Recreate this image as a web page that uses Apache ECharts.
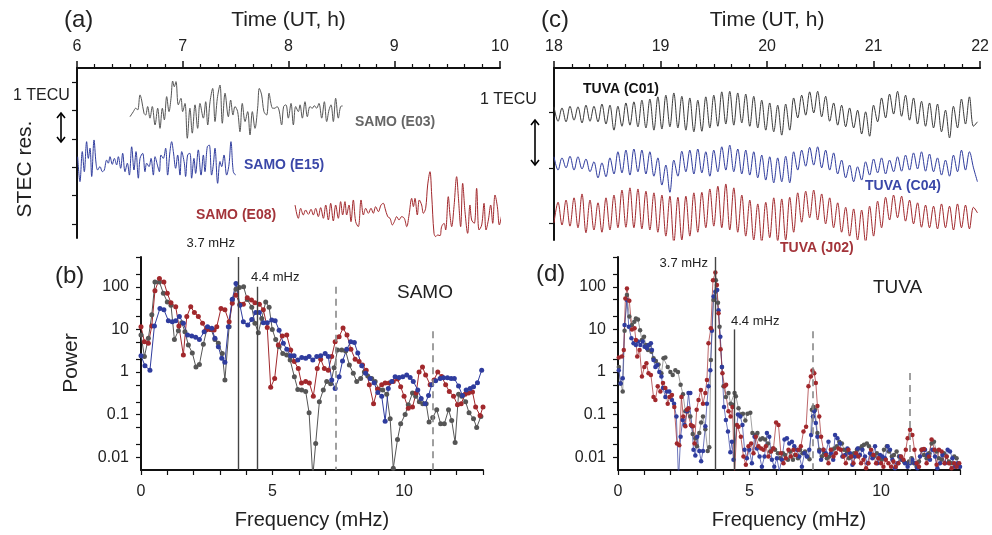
<!DOCTYPE html>
<html>
<head>
<meta charset="utf-8">
<title>SAMO / TUVA STEC</title>
<script src="https://cdn.jsdelivr.net/npm/echarts@6/dist/echarts.min.js"></script>
<style>
  html, body { margin: 0; padding: 0; background: #fff; }
  #chart { width: 992px; height: 535px; }
</style>
</head>
<body>
<div id="chart"></div>
<script>
// ---- STEC residuals, panel (a): [UT hour, offset TECU] ----
const samoE03 = [[6.501,3.78],[6.533,3.96],[6.555,4.08],[6.574,4.02],[6.596,4.55],[6.611,4.37],[6.634,3.9],[6.649,3.84],[6.668,4.14],[6.69,3.73],[6.712,4.14],[6.738,3.49],[6.763,4.08],[6.785,3.37],[6.807,4.08],[6.826,3.67],[6.848,4.49],[6.87,3.96],[6.889,4.43],[6.905,5.04],[6.92,4.84],[6.936,5.02],[6.958,4.2],[6.983,4.43],[6.999,3.96],[7.021,4.25],[7.043,3.02],[7.068,4.08],[7.09,3.2],[7.116,4.2],[7.141,3.37],[7.163,4.25],[7.195,3.73],[7.217,4.31],[7.236,3.49],[7.258,4.31],[7.283,4.78],[7.305,3.61],[7.327,4.43],[7.352,4.9],[7.374,3.55],[7.4,4.61],[7.431,3.78],[7.453,4.37],[7.475,3.84],[7.494,4.14],[7.519,3.96],[7.541,3.25],[7.563,4.25],[7.589,3.61],[7.614,3.96],[7.636,3.14],[7.658,3.96],[7.683,3.37],[7.708,4.08],[7.724,4.78],[7.746,4.55],[7.768,3.96],[7.793,3.84],[7.816,4.61],[7.834,4.25],[7.85,4.08],[7.872,4.08],[7.891,4.14],[7.91,4.02],[7.935,3.49],[7.954,4.14],[7.976,4.2],[7.998,3.73],[8.024,4.25],[8.046,3.49],[8.068,4.14],[8.093,3.96],[8.109,4.2],[8.131,3.73],[8.156,4.31],[8.178,3.78],[8.203,4.14],[8.225,4.08],[8.244,4.17],[8.266,4.08],[8.288,4.25],[8.314,3.73],[8.339,4.31],[8.361,3.61],[8.383,4.02],[8.402,4.2],[8.424,3.61],[8.446,4.43],[8.471,3.73],[8.493,4.14],[8.512,4.16]];
const samoE15 = [[6.006,2.37],[6.028,1.49],[6.05,2.55],[6.069,1.84],[6.091,2.9],[6.107,2.31],[6.123,2.67],[6.139,1.67],[6.161,2.96],[6.18,2.14],[6.195,1.9],[6.217,2.02],[6.24,1.84],[6.258,1.9],[6.28,2.25],[6.296,2.14],[6.312,2.37],[6.334,2.1],[6.353,2.31],[6.375,2.08],[6.391,2.37],[6.413,1.96],[6.432,2.49],[6.454,1.84],[6.476,2.14],[6.495,1.72],[6.517,2.72],[6.539,1.9],[6.558,2.55],[6.58,1.61],[6.596,2.31],[6.621,2.49],[6.643,1.84],[6.659,2.14],[6.681,2.02],[6.7,2.31],[6.722,1.72],[6.738,2.37],[6.76,2.08],[6.779,1.84],[6.794,2.43],[6.816,2.31],[6.838,2.67],[6.857,1.72],[6.879,2.55],[6.895,2.9],[6.911,2.55],[6.933,1.96],[6.952,2.43],[6.974,1.72],[6.99,2.55],[7.015,2.14],[7.027,1.67],[7.046,2.43],[7.068,2.49],[7.084,1.61],[7.106,2.31],[7.122,1.78],[7.147,2.61],[7.173,1.72],[7.195,2.43],[7.21,1.84],[7.232,2.72],[7.251,2.78],[7.273,1.72],[7.289,2.08],[7.305,2.67],[7.33,1.43],[7.352,2.2],[7.368,2.02],[7.39,2.43],[7.415,1.72],[7.437,2.08],[7.456,2.9],[7.478,1.84],[7.5,1.72]];
const samoE08 = [[8.062,0.665],[8.093,0.195],[8.115,0.548],[8.14,0.312],[8.162,0.489],[8.188,0.336],[8.213,0.512],[8.235,0.312],[8.257,0.548],[8.282,0.254],[8.304,0.571],[8.33,0.195],[8.352,0.665],[8.377,0.136],[8.399,0.724],[8.424,0.1],[8.446,0.665],[8.471,0.195],[8.493,0.783],[8.512,0.312],[8.534,0.783],[8.55,0.312],[8.572,0.665],[8.591,0.077],[8.613,0.842],[8.635,0.077],[8.66,-0.1],[8.686,0.842],[8.708,0.312],[8.73,0.548],[8.755,0.371],[8.78,0.548],[8.802,0.371],[8.824,0.606],[8.85,0.43],[8.875,0.665],[8.897,0.724],[8.913,0.548],[8.938,0.254],[8.96,0.195],[8.982,-0.04],[9.001,0.077],[9.023,0.254],[9.045,0.136],[9.07,0.254],[9.095,0.195],[9.118,-0.1],[9.14,0.312],[9.165,0.9],[9.181,0.606],[9.196,0.9],[9.218,0.312],[9.237,0.842],[9.259,0.665],[9.275,0.371],[9.297,0.548],[9.316,1.37],[9.338,1.84],[9.354,1.02],[9.376,-0.335],[9.392,-0.45],[9.411,-0.393],[9.433,-0.417],[9.448,-0.1],[9.471,0.018],[9.486,-0.217],[9.511,0.959],[9.527,0.312],[9.543,-0.1],[9.565,0.606],[9.59,1.665],[9.606,0.959],[9.628,-0.1],[9.647,1.43],[9.669,0.43],[9.694,-0.335],[9.716,0.665],[9.732,0.136],[9.757,0.018],[9.779,1.254],[9.802,-0.217],[9.827,-0.04],[9.849,0.724],[9.868,-0.217],[9.89,0.136],[9.912,0.665],[9.931,0.018],[9.953,1.018],[9.975,0.606],[9.994,-0.04],[10.016,0.312]];

// ---- STEC residuals, panel (c): common epochs (UT hour) + offset TECU ----
const tuvaTime = [18.000,18.038,18.075,18.113,18.150,18.188,18.225,18.263,18.300,18.338,
  18.375,18.413,18.450,18.488,18.525,18.563,18.600,18.638,18.675,18.713,
  18.750,18.788,18.825,18.863,18.900,18.938,18.975,19.013,19.050,19.088,
  19.125,19.163,19.200,19.238,19.275,19.313,19.350,19.388,19.425,19.463,
  19.500,19.538,19.575,19.613,19.650,19.688,19.725,19.763,19.800,19.838,
  19.875,19.913,19.950,19.988,20.025,20.063,20.100,20.138,20.175,20.213,
  20.250,20.288,20.325,20.363,20.400,20.438,20.475,20.513,20.550,20.588,
  20.625,20.663,20.700,20.738,20.775,20.813,20.850,20.888,20.925,20.963,
  21.000,21.038,21.075,21.113,21.150,21.188,21.225,21.263,21.300,21.338,
  21.375,21.413,21.450,21.488,21.525,21.563,21.600,21.638,21.675,21.713,
  21.750,21.788,21.825,21.863,21.900,21.938,21.975];
const tuvaC01 = [2.40,2.14,2.38,2.13,2.41,2.16,2.40,2.11,2.43,2.14,
  2.41,2.13,2.45,2.09,2.43,1.98,2.41,2.05,2.47,2.07,
  2.49,2.04,2.52,2.02,2.54,1.98,2.58,2.00,2.61,2.04,
  2.65,2.02,2.59,1.98,2.56,1.95,2.52,1.96,2.58,2.02,
  2.61,2.05,2.67,2.09,2.68,2.07,2.65,2.11,2.63,2.05,
  2.59,2.02,2.52,1.98,2.47,1.95,2.43,1.89,2.45,1.98,
  2.56,2.20,2.61,2.25,2.67,2.29,2.68,2.22,2.59,2.14,
  2.47,2.07,2.43,2.04,2.38,2.02,2.34,1.91,2.31,1.87,
  2.43,2.13,2.56,2.20,2.63,2.27,2.68,2.23,2.61,2.16,
  2.56,2.09,2.50,2.05,2.47,2.02,2.45,1.95,2.34,1.84,
  2.41,2.02,2.54,2.09,2.58,2.05,2.13];
const tuvaC04 = [1.50,1.26,1.48,1.30,1.51,1.26,1.50,1.28,1.46,1.23,
  1.41,1.12,1.39,1.14,1.48,1.19,1.59,1.21,1.62,1.17,
  1.64,1.23,1.62,1.19,1.59,1.15,1.48,0.99,1.35,0.86,
  1.44,1.15,1.60,1.23,1.62,1.19,1.64,1.21,1.59,1.15,
  1.62,1.23,1.68,1.26,1.71,1.23,1.64,1.19,1.62,1.17,
  1.59,1.12,1.53,1.08,1.50,1.03,1.48,1.05,1.51,1.03,
  1.59,1.26,1.62,1.33,1.67,1.35,1.68,1.30,1.62,1.26,
  1.57,1.19,1.44,1.12,1.35,1.05,1.32,1.08,1.41,1.17,
  1.46,1.21,1.48,1.19,1.44,1.23,1.50,1.24,1.53,1.26,
  1.57,1.28,1.59,1.24,1.55,1.23,1.48,1.17,1.44,1.15,
  1.53,1.23,1.62,1.26,1.59,1.30,1.05];
const tuvaJ02 = [0.31,0.68,0.27,0.72,0.25,0.76,0.22,0.83,0.13,0.72,
  0.18,0.67,0.14,0.76,0.18,0.81,0.22,0.90,0.23,0.94,
  0.22,0.92,0.20,0.88,0.18,0.85,0.14,0.81,0.07,0.79,
  -0.05,0.77,0.00,0.79,0.07,0.85,0.14,0.86,0.22,0.92,
  0.25,0.97,0.22,1.01,0.18,0.94,0.14,0.81,0.07,0.72,
  0.00,0.65,-0.04,0.68,0.04,0.76,-0.02,0.74,0.00,0.77,
  0.14,0.85,0.32,0.88,0.40,0.90,0.36,0.83,0.29,0.76,
  0.22,0.67,0.14,0.59,0.07,0.56,0.00,0.54,-0.04,0.61,
  0.07,0.70,0.22,0.77,0.36,0.81,0.40,0.79,0.34,0.72,
  0.29,0.67,0.23,0.63,0.22,0.61,0.20,0.65,0.22,0.61,
  0.18,0.65,0.22,0.63,0.20,0.59,0.49];

// ---- power spectra, panel (b): [frequency mHz, power] ----
const specE03 = [[0,7.4],[0.13,2.3],[0.28,6.2],[0.41,22],[0.53,130],[0.7,130],[0.85,70],[1.0,44],[1.14,37],[1.27,5.8],[1.42,9.3],[1.55,14.3],[1.67,8.8],[1.8,4.3],[1.95,2.8],[2.09,1.3],[2.22,1.5],[2.37,4.5],[2.52,11],[2.66,10],[2.81,5.8],[2.94,4.7],[3.09,2.7],[3.19,0.65],[3.35,11.5],[3.47,49],[3.61,87],[3.74,96],[3.9,100],[4.04,50],[4.21,33],[4.33,14],[4.46,8.3],[4.59,18],[4.74,44],[4.87,33],[4.99,10],[5.12,5.8],[5.25,3.9],[5.39,2.7],[5.54,2.5],[5.67,1.9],[5.83,0.77],[5.96,0.39],[6.11,0.38],[6.26,0.35],[6.39,0.11],[6.53,0.0035],[6.64,0.021],[6.78,0.2],[6.93,0.38],[7.06,0.6],[7.21,0.53],[7.34,1.26],[7.47,3.3],[7.63,3.3],[7.78,3.1],[7.92,1.45],[8.07,0.93],[8.2,0.6],[8.35,0.7],[8.49,1.0],[8.62,0.8],[8.77,0.7],[8.9,0.6],[9.05,0.39],[9.19,0.38],[9.34,0.3],[9.47,0.08],[9.59,0.0055],[9.75,0.026],[9.87,0.061],[10.04,0.1],[10.16,0.17],[10.32,0.32],[10.44,0.27],[10.58,0.2],[10.71,0.18],[10.84,0.18],[10.95,0.067],[11.09,0.085],[11.24,0.13],[11.39,0.061],[11.53,0.061],[11.69,0.13],[11.81,0.073],[11.94,0.022],[12.07,0.3],[12.19,0.27],[12.34,0.2],[12.47,0.11],[12.64,0.08],[12.76,0.05],[12.92,0.09]];
const specE15 = [[0,2.4],[0.15,1.4],[0.34,1.1],[0.51,12],[0.72,31],[0.87,29],[1.04,16],[1.19,15],[1.32,16],[1.46,20],[1.61,14],[1.77,7.4],[1.93,7],[2.08,6.5],[2.22,5.8],[2.4,8.8],[2.53,11.6],[2.69,10.6],[2.81,6.2],[2.94,3.9],[3.07,2.1],[3.19,1.7],[3.32,11.6],[3.47,51],[3.61,120],[3.76,37],[3.89,15],[4.06,12.6],[4.21,17],[4.36,25],[4.5,25],[4.65,14.3],[4.8,14.3],[4.97,16.5],[5.1,16],[5.25,9.6],[5.41,4.7],[5.54,3.4],[5.69,2.4],[5.82,2.4],[5.96,1.9],[6.11,2.2],[6.26,2.1],[6.39,2.3],[6.53,1.9],[6.68,2.3],[6.83,2.4],[7.0,2.7],[7.12,2.3],[7.25,0.65],[7.38,0.41],[7.53,0.77],[7.66,1.8],[7.82,3.4],[7.97,5.1],[8.11,4.9],[8.24,2.8],[8.39,1.4],[8.54,0.93],[8.71,0.7],[8.86,0.56],[9.0,0.33],[9.15,0.27],[9.28,0.07],[9.4,0.41],[9.53,0.6],[9.66,0.77],[9.81,0.74],[9.95,0.77],[10.1,0.85],[10.23,0.74],[10.35,0.6],[10.52,0.38],[10.65,0.24],[10.8,0.18],[10.93,0.28],[11.05,0.5],[11.2,0.62],[11.37,0.7],[11.5,0.73],[11.65,0.73],[11.79,0.7],[11.91,0.7],[12.07,0.47],[12.22,0.28],[12.36,0.38],[12.51,0.41],[12.64,0.45],[12.79,0.56],[12.95,1.1]];
const specE08 = [[0,11.6],[0.13,5.1],[0.28,4.7],[0.41,12],[0.53,81],[0.7,156],[0.87,130],[1.0,70],[1.14,42],[1.32,34],[1.44,12],[1.61,2.5],[1.74,20],[1.89,34],[2.03,25],[2.18,20],[2.34,14],[2.47,9.7],[2.62,10],[2.78,9.7],[2.88,11.6],[3.04,31],[3.19,29],[3.35,15],[3.47,41],[3.61,64],[3.76,39],[3.89,39],[4.04,55],[4.2,49],[4.33,42],[4.5,39],[4.65,29],[4.8,11],[4.93,0.44],[5.08,0.7],[5.22,4.3],[5.37,7],[5.54,7.4],[5.69,3.3],[5.83,1.75],[5.98,1.2],[6.1,0.55],[6.26,0.6],[6.4,0.55],[6.55,0.27],[6.7,1.2],[6.83,2.0],[6.97,1.2],[7.12,1.1],[7.25,2.3],[7.38,5.1],[7.53,6.7],[7.68,10.7],[7.83,7.4],[7.98,3.4],[8.14,2.0],[8.29,1.75],[8.42,1.45],[8.56,1.1],[8.68,0.5],[8.84,0.18],[8.99,0.4],[9.15,0.5],[9.28,0.55],[9.43,0.55],[9.59,0.6],[9.75,0.68],[9.87,0.45],[10.0,0.27],[10.16,0.14],[10.32,0.15],[10.46,0.32],[10.57,1.0],[10.7,1.3],[10.82,0.85],[10.99,0.5],[11.14,0.65],[11.28,1.0],[11.43,0.78],[11.58,0.5],[11.72,0.35],[11.88,0.27],[12.03,0.17],[12.17,0.18],[12.32,0.3],[12.45,0.32],[12.6,0.34],[12.72,0.15],[12.89,0.095],[13.0,0.15]];

// ---- power spectra, panel (d) ----
const specC01 = [[0.03,1.3],[0.1,0.54],[0.18,0.35],[0.25,9.3],[0.34,64],[0.43,20],[0.53,12.6],[0.62,15],[0.68,18],[0.76,17],[0.84,9.6],[0.91,5.6],[0.99,6.7],[1.06,4.3],[1.14,3.3],[1.19,4.3],[1.27,3.0],[1.35,2.1],[1.44,1.8],[1.54,1.5],[1.65,0.93],[1.73,2.1],[1.8,2.2],[1.89,1.3],[1.99,1.0],[2.08,0.85],[2.18,1.1],[2.28,1.0],[2.38,0.5],[2.47,0.3],[2.56,0.12],[2.65,0.12],[2.75,0.09],[2.84,0.035],[2.94,0.028],[3.0,0.018],[3.09,0.037],[3.16,0.065],[3.23,0.09],[3.32,0.045],[3.41,0.014],[3.47,0.017],[3.53,1.9],[3.63,49],[3.72,143],[3.8,42],[3.86,11.5],[3.95,1.3],[4.01,0.46],[4.1,0.26],[4.2,0.32],[4.28,0.18],[4.35,0.17],[4.43,0.32],[4.48,0.27],[4.58,0.14],[4.67,0.1],[4.75,0.105],[4.84,0.073],[4.92,0.105],[5.03,0.11],[5.11,0.037],[5.22,0.033],[5.3,0.037],[5.41,0.026],[5.49,0.028],[5.59,0.026],[5.7,0.021],[5.78,0.0135],[5.89,0.016],[5.97,0.015],[6.08,0.0124],[6.16,0.0095],[6.27,0.0124],[6.35,0.0113],[6.46,0.0087],[6.54,0.0135],[6.65,0.0087],[6.73,0.0113],[6.84,0.0095],[6.92,0.015],[7.01,0.0124],[7.11,0.0135],[7.2,0.0104],[7.28,0.009],[7.37,0.13],[7.43,0.15],[7.49,0.13],[7.58,0.037],[7.65,0.015],[7.75,0.0104],[7.84,0.0124],[7.94,0.0095],[8.03,0.0104],[8.13,0.015],[8.22,0.016],[8.32,0.018],[8.41,0.023],[8.51,0.021],[8.59,0.015],[8.7,0.0135],[8.78,0.0095],[8.89,0.0104],[8.97,0.0124],[9.08,0.015],[9.16,0.016],[9.27,0.018],[9.35,0.0195],[9.46,0.021],[9.54,0.018],[9.65,0.0113],[9.73,0.0104],[9.84,0.0124],[9.92,0.0095],[10.03,0.0087],[10.11,0.015],[10.22,0.018],[10.3,0.0135],[10.41,0.0104],[10.49,0.0113],[10.59,0.0135],[10.68,0.0104],[10.78,0.0087],[10.87,0.0079],[10.97,0.0072],[11.06,0.0079],[11.16,0.0095],[11.25,0.0072],[11.35,0.006],[11.44,0.0079],[11.54,0.015],[11.63,0.0113],[11.73,0.0095],[11.82,0.0124],[11.92,0.021],[12.01,0.023],[12.11,0.0135],[12.2,0.0095],[12.3,0.0087],[12.39,0.0124],[12.49,0.0104],[12.58,0.0079],[12.68,0.0072],[12.78,0.0104],[12.87,0.0095],[12.97,0.006]];
const specC04 = [[0.03,1.1],[0.1,0.54],[0.18,0.71],[0.25,12.6],[0.34,49],[0.41,11.5],[0.51,6.2],[0.59,4.7],[0.68,4.3],[0.76,5.2],[0.85,4.3],[0.94,5.2],[1.01,3.9],[1.1,3.6],[1.16,4.3],[1.25,4.7],[1.29,3.3],[1.35,1.9],[1.42,1.3],[1.49,1.45],[1.57,1.0],[1.65,0.78],[1.71,0.42],[1.8,0.26],[1.86,0.35],[1.95,0.35],[2.05,0.22],[2.13,0.18],[2.22,0.09],[2.3,0.003],[2.38,0.03],[2.46,0.075],[2.53,0.057],[2.62,0.12],[2.68,0.32],[2.75,0.32],[2.81,0.053],[2.87,0.015],[2.94,0.011],[3.01,0.03],[3.09,0.014],[3.16,0.008],[3.23,0.014],[3.32,0.053],[3.38,0.18],[3.44,0.46],[3.51,1.1],[3.57,9.3],[3.63,59],[3.7,76],[3.77,84],[3.82,28],[3.89,6.7],[3.95,1.3],[4.03,0.15],[4.1,0.075],[4.18,0.04],[4.27,0.013],[4.33,0.023],[4.39,0.0087],[4.56,0.1],[4.65,0.09],[4.73,0.057],[4.81,0.015],[4.9,0.0095],[4.99,0.015],[5.09,0.0072],[5.19,0.03],[5.28,0.016],[5.38,0.0104],[5.47,0.006],[5.57,0.0104],[5.66,0.037],[5.75,0.03],[5.85,0.0087],[5.94,0.006],[6.04,0.0095],[6.13,0.0048],[6.23,0.0087],[6.33,0.026],[6.42,0.028],[6.51,0.021],[6.61,0.023],[6.7,0.018],[6.8,0.015],[6.89,0.0104],[6.99,0.006],[7.09,0.0124],[7.18,0.0104],[7.27,0.015],[7.34,0.033],[7.41,0.09],[7.46,0.12],[7.52,0.063],[7.58,0.03],[7.65,0.0135],[7.72,0.0087],[7.81,0.015],[7.9,0.0124],[8.0,0.023],[8.09,0.0124],[8.18,0.0087],[8.25,0.033],[8.34,0.028],[8.44,0.021],[8.53,0.0104],[8.63,0.0113],[8.72,0.016],[8.82,0.0124],[8.91,0.0066],[9.01,0.0104],[9.11,0.016],[9.2,0.0113],[9.29,0.015],[9.39,0.0104],[9.48,0.0072],[9.58,0.0124],[9.67,0.0095],[9.77,0.018],[9.86,0.0072],[9.96,0.0113],[10.05,0.0104],[10.15,0.0095],[10.25,0.018],[10.34,0.015],[10.43,0.0087],[10.53,0.0055],[10.62,0.0072],[10.72,0.0104],[10.81,0.0087],[10.91,0.0072],[11.01,0.006],[11.1,0.0072],[11.19,0.0087],[11.29,0.0072],[11.38,0.0055],[11.48,0.0104],[11.57,0.015],[11.67,0.015],[11.76,0.0113],[11.86,0.0087],[11.95,0.015],[12.05,0.0104],[12.14,0.0055],[12.24,0.0072],[12.33,0.0113],[12.43,0.0072],[12.53,0.015],[12.62,0.0135],[12.71,0.0095],[12.81,0.006],[12.91,0.0072],[13.0,0.006]];
const specJ02 = [[0.03,2.2],[0.15,2.3],[0.22,3.3],[0.28,53],[0.34,91],[0.43,47],[0.53,10],[0.63,10.6],[0.68,5.6],[0.73,2.3],[0.82,3.3],[0.91,0.78],[1.0,1.3],[1.08,1.6],[1.16,0.93],[1.25,0.85],[1.35,0.26],[1.42,0.22],[1.51,0.46],[1.61,0.35],[1.71,0.55],[1.8,0.42],[1.89,0.18],[1.96,0.26],[2.05,0.29],[2.14,0.15],[2.24,0.021],[2.33,0.019],[2.41,0.26],[2.48,0.09],[2.56,0.053],[2.62,0.13],[2.68,0.14],[2.77,0.057],[2.85,0.053],[2.91,0.021],[2.99,0.13],[3.06,0.22],[3.15,0.38],[3.23,0.18],[3.32,0.32],[3.38,0.65],[3.44,4.7],[3.53,10.6],[3.61,143],[3.7,216],[3.76,110],[3.82,24],[3.9,3.4],[3.97,0.93],[4.05,0.46],[4.11,0.5],[4.2,0.12],[4.28,0.09],[4.35,0.15],[4.43,0.004],[4.52,0.057],[4.58,0.052],[4.67,0.03],[4.77,0.0104],[4.86,0.0066],[4.96,0.018],[5.06,0.021],[5.15,0.0124],[5.24,0.03],[5.34,0.018],[5.44,0.016],[5.53,0.015],[5.62,0.018],[5.72,0.0104],[5.82,0.0135],[5.91,0.016],[6.01,0.065],[6.1,0.057],[6.19,0.0124],[6.29,0.0072],[6.38,0.0095],[6.48,0.015],[6.57,0.0104],[6.67,0.015],[6.76,0.0113],[6.86,0.015],[6.95,0.018],[7.05,0.04],[7.15,0.052],[7.24,0.46],[7.33,0.78],[7.39,1.08],[7.46,0.93],[7.52,0.55],[7.58,0.16],[7.65,0.09],[7.72,0.03],[7.81,0.015],[7.9,0.0113],[8.0,0.0072],[8.09,0.015],[8.19,0.0104],[8.28,0.0124],[8.38,0.016],[8.47,0.015],[8.57,0.0104],[8.66,0.0072],[8.76,0.015],[8.86,0.0104],[8.95,0.0072],[9.05,0.0124],[9.14,0.0104],[9.24,0.0072],[9.33,0.0087],[9.43,0.0055],[9.52,0.0072],[9.62,0.015],[9.71,0.0113],[9.81,0.0072],[9.9,0.0095],[10.0,0.0072],[10.09,0.006],[10.18,0.0087],[10.28,0.0072],[10.38,0.006],[10.47,0.0079],[10.56,0.006],[10.66,0.0072],[10.76,0.0104],[10.85,0.0087],[10.94,0.015],[11.01,0.028],[11.1,0.044],[11.19,0.033],[11.27,0.015],[11.35,0.0072],[11.44,0.006],[11.54,0.015],[11.63,0.0155],[11.73,0.0072],[11.82,0.0104],[11.92,0.026],[12.03,0.015],[12.11,0.0066],[12.2,0.015],[12.3,0.0135],[12.41,0.0072],[12.49,0.0104],[12.58,0.0072],[12.68,0.0055],[12.78,0.0072],[12.87,0.006],[12.97,0.0072]];

// reference frequencies (mHz): 3.7 / 4.4 and harmonics of 3.7
const markFreq = [3.7, 4.4];
const harmFreq = [7.4, 11.1];
const powerTicks = [0.01, 0.1, 1, 10, 100];
const powerMinor = [0.01, 0.02, 0.05, 0.1, 0.2, 0.5, 1, 2, 5, 10, 20, 50, 100, 200, 500];

const FONT = 'Liberation Sans, Arial, Helvetica, sans-serif';
const GRAY = '#555555';
const BLUE = '#2f3c9e';
const RED = '#a1282c';
const AXIS = { onZero: false, lineStyle: { color: '#111', width: 2 } };

const chart = echarts.init(document.getElementById('chart'), null, { renderer: 'canvas' });

function timeAxis(grid, min, max) {
  return {
    gridIndex: grid, type: 'value', position: 'top', min: min, max: max, interval: 1,
    name: 'Time (UT, h)', nameLocation: 'middle', nameGap: 37,
    nameTextStyle: { fontSize: 21, color: '#222', fontFamily: FONT },
    axisLine: AXIS,
    axisTick: { length: 7, lineStyle: { color: '#111', width: 1.5 } },
    minorTick: { show: true, splitNumber: 6, length: 4, lineStyle: { color: '#111', width: 1.2 } },
    axisLabel: { fontSize: 16, color: '#222', margin: 13, fontFamily: FONT },
    splitLine: { show: false }
  };
}
function freqAxis(grid) {
  return {
    gridIndex: grid, type: 'value', min: 0, max: 13, interval: 1,
    name: 'Frequency (mHz)', nameLocation: 'middle', nameGap: 40,
    nameTextStyle: { fontSize: 20, color: '#222', fontFamily: FONT },
    axisLine: AXIS,
    axisTick: { length: 5, lineStyle: { color: '#111', width: 1.2 } },
    axisLabel: { customValues: [0, 5, 10], fontSize: 16, color: '#222', margin: 14, fontFamily: FONT },
    splitLine: { show: false }
  };
}
function powerAxis(grid) {
  return {
    gridIndex: grid, type: 'log', logBase: 10, min: 0.005, max: 500,
    axisLine: AXIS,
    axisTick: { customValues: powerMinor, length: 5, lineStyle: { color: '#111', width: 1.2 } },
    axisLabel: {
      customValues: powerTicks, fontSize: 16, color: '#222', margin: 12, fontFamily: FONT,
      formatter: v => String(v)
    },
    splitLine: { show: false }
  };
}
function stecAxis(grid, min, max, ticks) {
  return {
    gridIndex: grid, type: 'value', min: min, max: max,
    axisLine: AXIS,
    axisTick: { customValues: ticks, length: 5, lineStyle: { color: '#111', width: 1.2 } },
    axisLabel: { show: false },
    splitLine: { show: false }
  };
}

function trace(name, xi, data, color, width) {
  return {
    name: name, type: 'line', xAxisIndex: xi, yAxisIndex: xi, data: data,
    showSymbol: false, smooth: 0.35, clip: true,
    lineStyle: { color: color, width: width || 1 }, itemStyle: { color: color },
    silent: true
  };
}
function spectrum(name, xi, data, color, size, lineOpacity) {
  return {
    name: name, type: 'line', xAxisIndex: xi, yAxisIndex: xi, data: data,
    symbol: 'circle', symbolSize: size, showSymbol: true, clip: true,
    lineStyle: { color: color, width: 1, opacity: lineOpacity },
    itemStyle: { color: color },
    silent: true
  };
}
function freqLines(tops) {
  // tops: [top of 3.7 line, top of 4.4 line, top of 7.4 line, top of 11.1 line]
  const solid = { color: '#444', width: 1.4, type: 'solid' };
  const dash = { color: '#888', width: 1.6, type: [7, 5] };
  return {
    symbol: ['none', 'none'], silent: true, label: { show: false },
    animation: false,
    data: [
      [{ coord: [markFreq[0], tops[0]], lineStyle: solid }, { coord: [markFreq[0], 0.005] }],
      [{ coord: [markFreq[1], tops[1]], lineStyle: solid }, { coord: [markFreq[1], 0.005] }],
      [{ coord: [harmFreq[0], tops[2]], lineStyle: dash }, { coord: [harmFreq[0], 0.005] }],
      [{ coord: [harmFreq[1], tops[3]], lineStyle: dash }, { coord: [harmFreq[1], 0.005] }]
    ]
  };
}

function text(x, y, str, opt) {
  return {
    type: 'text', x: x, y: y, silent: true,
    rotation: opt.rotation || 0,
    style: {
      text: str, fontSize: opt.size || 14, fontWeight: opt.weight || 'normal',
      fill: opt.color || '#222', fontFamily: FONT,
      align: opt.align || 'left', verticalAlign: 'middle'
    }
  };
}
function arrow(x, y1, y2) {
  const s = { stroke: '#000', lineWidth: 1.6, fill: null };
  return {
    type: 'group', silent: true,
    children: [
      { type: 'line', shape: { x1: x, y1: y1, x2: x, y2: y2 }, style: s },
      { type: 'polyline', shape: { points: [[x - 4, y1 + 5], [x, y1], [x + 4, y1 + 5]] }, style: s },
      { type: 'polyline', shape: { points: [[x - 4, y2 - 5], [x, y2], [x + 4, y2 - 5]] }, style: s }
    ]
  };
}

const tuva = vals => tuvaTime.map((t, i) => [t, vals[i]]).filter(p => p[1] !== undefined);

const specB = [
  spectrum('SAMO E03', 2, specE03, GRAY, 5, 1),
  spectrum('SAMO E08', 2, specE08, RED, 5, 1),
  spectrum('SAMO E15', 2, specE15, BLUE, 5, 1)
];
specB[0].markLine = freqLines([500, 100, 100, 9]);
const specD = [
  spectrum('TUVA C01', 3, specC01, GRAY, 4.5, 0.55),
  spectrum('TUVA C04', 3, specC04, BLUE, 4.5, 0.7),
  spectrum('TUVA J02', 3, specJ02, RED, 4.5, 0.7)
];
specD[0].markLine = freqLines([500, 10, 9, 0.95]);

chart.setOption({
  animation: false,
  backgroundColor: '#fff',
  textStyle: { fontFamily: FONT },
  grid: [
    { left: 77, top: 68, width: 423, height: 170 },
    { left: 554, top: 68, width: 428, height: 172 },
    { left: 141, top: 257, width: 342, height: 213 },
    { left: 618, top: 257, width: 342, height: 213 }
  ],
  xAxis: [timeAxis(0, 6, 10), timeAxis(1, 18, 22), freqAxis(2), freqAxis(3)],
  yAxis: [
    stecAxis(0, -0.5, 5.5, [0, 1, 2, 3, 4, 5]),
    stecAxis(1, 0, 3.1, [0.3, 1.3, 2.3]),
    powerAxis(2),
    powerAxis(3)
  ],
  series: [
    trace('SAMO E03', 0, samoE03, GRAY),
    trace('SAMO E15', 0, samoE15, BLUE),
    trace('SAMO E08', 0, samoE08, RED),
    trace('TUVA C01', 1, tuva(tuvaC01), '#3a3a3a'),
    trace('TUVA C04', 1, tuva(tuvaC04), BLUE),
    trace('TUVA J02', 1, tuva(tuvaJ02), RED)
  ].concat(specB, specD),
  graphic: [
    text(64, 20, '(a)', { size: 24 }),
    text(541, 20, '(c)', { size: 24 }),
    text(55, 276, '(b)', { size: 24 }),
    text(536, 274, '(d)', { size: 24 }),
    text(25, 169, 'STEC res.', { size: 21, rotation: Math.PI / 2, align: 'center' }),
    text(71, 363, 'Power', { size: 21, rotation: Math.PI / 2, align: 'center' }),
    text(13, 96, '1 TECU', { size: 16 }),
    text(480, 100, '1 TECU', { size: 16 }),
    arrow(61, 113, 142),
    arrow(535, 120, 165),
    text(355, 122, 'SAMO (E03)', { size: 14, weight: 'bold', color: '#666' }),
    text(244, 165, 'SAMO (E15)', { size: 14, weight: 'bold', color: '#3a47a8' }),
    text(196, 215, 'SAMO (E08)', { size: 14, weight: 'bold', color: '#a3343a' }),
    text(583, 89, 'TUVA (C01)', { size: 14, weight: 'bold', color: '#111' }),
    text(865, 186, 'TUVA (C04)', { size: 14, weight: 'bold', color: '#3a47a8' }),
    text(780, 248, 'TUVA (J02)', { size: 14, weight: 'bold', color: '#a3343a' }),
    text(397, 293, 'SAMO', { size: 19 }),
    text(873, 288, 'TUVA', { size: 19 }),
    text(235, 243, '3.7 mHz', { size: 13, align: 'right' }),
    text(251, 277, '4.4 mHz', { size: 13 }),
    text(708, 263, '3.7 mHz', { size: 13, align: 'right' }),
    text(731, 321, '4.4 mHz', { size: 13 })
  ]
});
</script>
</body>
</html>
